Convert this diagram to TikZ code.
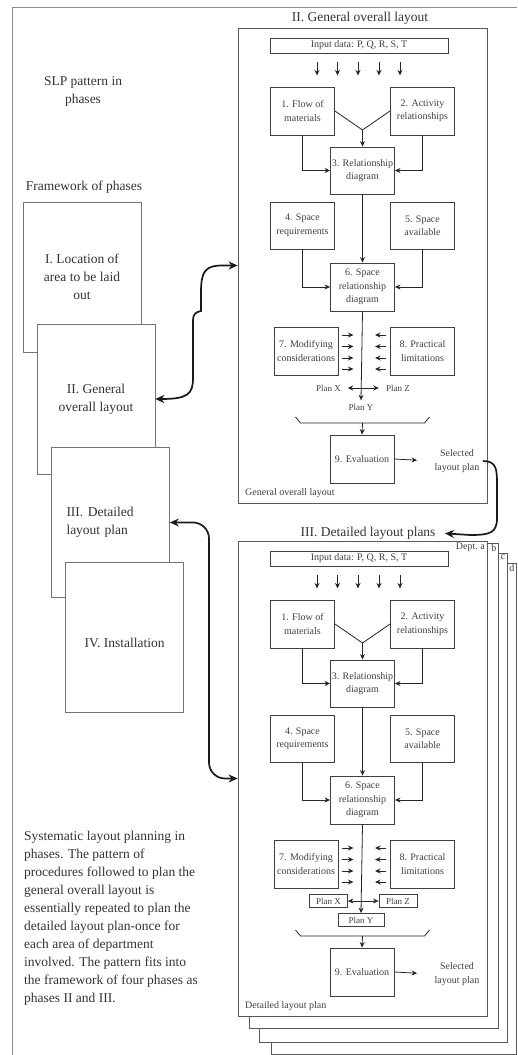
\documentclass[tikz,border=0pt]{standalone}
\usepackage{fontspec}
\setmainfont{Liberation Serif}
\usetikzlibrary{arrows.meta}

\begin{document}
\begin{tikzpicture}[x=1pt, y=-1pt,
  every node/.style={align=center, text=black!80},
  big/.style={font=\fontsize{13.5}{18}\selectfont},
  small/.style={font=\fontsize{10}{13.5}\selectfont, text=black!75},
  frame/.style={draw=black!65, line width=0.8pt},
  phase/.style={big, draw=black!55, fill=white, line width=0.7pt, minimum width=118pt, minimum height=150pt},
  blk/.style={small, draw=black!75, fill=white, line width=0.9pt, minimum width=64pt, minimum height=48pt, inner sep=1pt},
  plan/.style={small, font=\fontsize{9}{11}\selectfont, minimum width=38pt, minimum height=13pt, inner sep=1pt},
  Gplan/.style={plan},
  Dplan/.style={plan, draw=black!75, line width=0.8pt},
  lnk/.style={draw=black!85, line width=0.8pt, -{Stealth[length=5.5pt, width=5pt]}},
  curl/.style={draw=black!90, line width=1.7pt, {Stealth[length=9pt, width=8pt]}-{Stealth[length=9pt, width=8pt]}},
]
\useasboundingbox (0,0) rectangle (517,1055);
\draw[draw=black!45, line width=1pt] (12,1055) -- (12,7) -- (517,7);

% framework of phases
\node (slp) [big] at (83,91) {SLP pattern in\\phases};
\node (fw) [big] at (84,187) {Framework of phases};
\node (P1) [phase] at (82,277) {I. Location of\\area to be laid\\out};
\node (P2) [phase] at (96,399) {II. General\\overall layout};
\node (P3) [phase, text width=88pt, align=left] at (110.5,522.5) {III. Detailed\\layout plan};
\node (P4) [phase, text height=21pt] at (124.5,637) {IV. Installation};
\node (note) [big, anchor=north west, align=left, inner sep=0pt] at (24,831) {Systematic layout planning in\\phases. The pattern of\\procedures followed to plan the\\general overall layout is\\essentially repeated to plan the\\detailed layout plan-once for\\each area of department\\involved. The pattern fits into\\the framework of four phases as\\phases II and III.};

% sheets behind the detailed plan
\draw[frame, fill=white] (271,563) rectangle (516,1054);
\draw[frame, fill=white] (259,553) rectangle (507,1042);
\draw[frame, fill=white] (249,543) rectangle (498,1028);
\node (pgd) [small, anchor=north east, inner sep=1.5pt] at (516,563) {d};
\node (pgc) [small, anchor=north east, inner sep=1.5pt] at (507,553) {c};
\node (pgb) [small, anchor=north east, inner sep=1.5pt] at (498,543) {b};

% the SLP pattern, twice
\foreach \p/\dy/\lbl in {G/0/General overall layout, D/513/Detailed layout plan} {
\begin{scope}[shift={(0,\dy)}]
  \node (\p pan) [frame, fill=white, minimum width=249pt, minimum height=475pt] at (362.5,265.5) {};
  \node (\p in) [blk, minimum width=178pt, minimum height=15pt] at (359,45.5) {Input data: P, Q, R, S, T};
  \node (\p1) [blk] at (302.5,111) {1. Flow of\\materials};
  \node (\p2) [blk] at (422.5,111) {2. Activity\\relationships};
  \node (\p3) [blk, minimum height=47pt] at (362.5,170.5) {3. Relationship\\diagram};
  \node (\p4) [blk, minimum height=47pt] at (302.5,225.5) {4. Space\\requirements};
  \node (\p5) [blk, minimum height=47pt] at (422.5,225.5) {5. Space\\available};
  \node (\p6) [blk] at (362.5,287) {6. Space\\relationship\\diagram};
  \node (\p7) [blk] at (306,351) {7. Modifying\\considerations};
  \node (\p8) [blk] at (422.5,351) {8. Practical\\limitations};
  \node (\p X) [\p plan] at (328.5,388) {Plan X};
  \node (\p Z) [\p plan] at (398,388) {Plan Z};
  \node (\p Y) [\p plan, minimum width=46pt] at (361,407) {Plan Y};
  \coordinate (\p v) at (362.5,130);
  \coordinate (\p br) at (362.5,423);
  \node (\p9) [blk] at (362,459) {9. Evaluation};
  \node (\p S) [small] at (457,461) {Selected\\layout plan};
  \node (\p L) [small, anchor=west, inner sep=0pt] at (245,493) {\lbl};

  \foreach \k in {-42,-21.5,-1,20,41}
    \draw[lnk] (\p in.south) ++(\k,9) -- ++(0,13);
  \draw[lnk, -] (\p1.east) -- (\p v) -- (\p2.west);
  \draw[lnk] (\p v) -- (\p3.north);
  \draw[lnk] (\p1.south) |- (\p3.west);
  \draw[lnk] (\p2.south) |- (\p3.east);
  \draw[lnk] (\p3.south) -- (\p6.north);
  \draw[lnk] (\p4.south) |- (\p6.west);
  \draw[lnk] (\p5.south) |- (\p6.east);
  \foreach \k in {-16,-4.5,7,18} {
    \draw[lnk] (\p7.east) ++(4,\k) -- ++(11,0);
    \draw[lnk] (\p8.west) ++(-4,\k) -- ++(-11,0);
  }
  \draw[lnk] (\p6.south) -- (\p Y.north);
  \draw[lnk, {Stealth[length=5.5pt, width=5pt]}-{Stealth[length=5.5pt, width=5pt]}] (\p X.east) -- (\p Z.west);
  \draw[draw=black!85, line width=0.8pt] (\p br) ++(-67,-6) -- ++(5,6) -- ++(124,0) -- ++(5,-6);
  \draw[lnk] (\p br) -- (\p9.north);
  \draw[lnk, shorten >=14pt] (\p9.east) -- (\p S.west);
\end{scope}
}

\node (Gtit) [big] at (360,18) {II. General overall layout};
\node (Dtit) [big] at (368,533) {III. Detailed layout plans};
\node (pga) [small, anchor=north east, inner sep=2pt] at (487,541) {Dept.\ a};

\draw[curl] (P2.east) .. controls (188,399) and (193,394) .. (193,378) -- (193,320)
  .. controls (193,314) and (196,312) .. (201,311) .. controls (201,305) and (201,300) .. (201,292)
  .. controls (201,272) and (205,265.5) .. (222,265.5) -- (Gpan.west);
\draw[curl, rounded corners=16pt] (P3.east) -- (209,522.5) -- (209,778.5) -- (Dpan.west);
\draw[curl, -{Stealth[length=9pt, width=8pt]}, shorten >=6pt] (GS.east) .. controls (497,461) and (497,470) .. (497,485)
  -- (497,518) .. controls (497,533) and (490,535) .. (470,535) -- (Dtit.east);
\end{tikzpicture}
\end{document}
